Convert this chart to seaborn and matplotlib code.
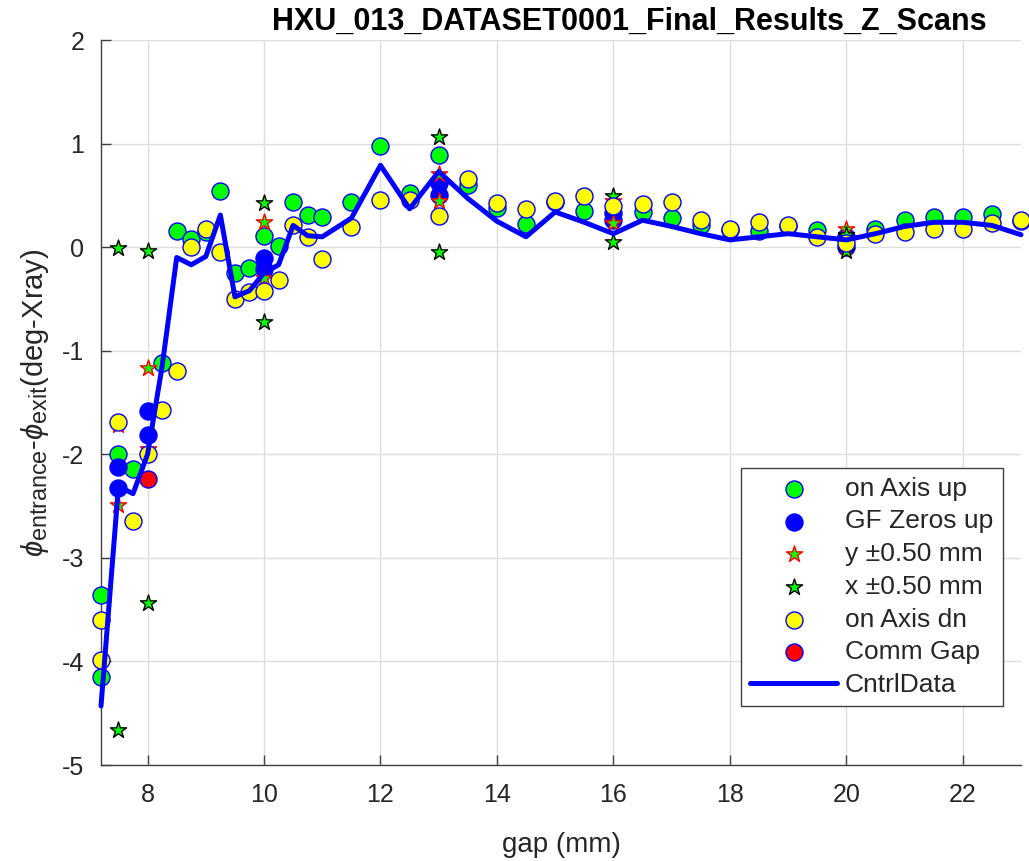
import numpy as np
import pandas as pd
import matplotlib
matplotlib.use("Agg")
import matplotlib.pyplot as plt
import matplotlib._mathtext as _mt
import seaborn as sns

# ---------------- data ----------------
up_x = [7.2, 7.2, 7.5, 7.75, 8.25, 8.5, 8.75, 9.0, 9.25, 9.5, 9.75, 10.0, 10.25, 10.5,
        10.75, 11.0, 11.5, 12.0, 12.5, 13.0, 13.5, 14.0, 14.5, 15.0, 15.5, 16.5, 17.0,
        17.5, 18.0, 18.5, 19.0, 19.5, 20.0, 20.5, 21.0, 21.5, 22.0, 22.5, 23.0]
up_y = [-3.36, -4.15, -2.0, -2.14, -1.12, 0.16, 0.08, 0.15, 0.54, -0.25, -0.2, 0.11, 0.01, 0.44,
        0.31, 0.29, 0.44, 0.98, 0.52, 0.89, 0.60, 0.38, 0.22, 0.44, 0.35, 0.34, 0.28,
        0.21, 0.17, 0.16, 0.20, 0.17, 0.10, 0.18, 0.26, 0.29, 0.29, 0.32, 0.25]

gf_x = [7.5, 7.5, 8.0, 8.0, 10.0, 10.0, 13.0, 13.0, 16.0, 16.0, 20.0, 20.0]
gf_y = [-2.12, -2.33, -1.58, -1.81, -0.10, -0.21, 0.62, 0.50, 0.33, 0.26, 0.10, 0.0]

ys_x = [7.5, 7.5, 8.0, 8.0, 10.0, 10.0, 13.0, 13.0, 16.0, 16.0, 20.0, 20.0]
ys_y = [-1.72, -2.49, -1.17, -1.95, 0.24, -0.30, 0.71, 0.45, 0.45, 0.23, 0.18, 0.0]

xs_x = [7.5, 7.5, 8.0, 8.0, 10.0, 10.0, 13.0, 13.0, 16.0, 16.0, 20.0, 20.0]
xs_y = [-0.01, -4.66, -0.04, -3.44, 0.43, -0.72, 1.06, -0.05, 0.49, 0.05, 0.12, -0.04]

dn_x = [7.2, 7.2, 7.5, 7.75, 8.0, 8.25, 8.5, 8.75, 9.0, 9.25, 9.5, 9.75, 10.0, 10.25, 10.5,
        10.75, 11.0, 11.5, 12.0, 12.5, 13.0, 13.5, 14.0, 14.5, 15.0, 15.5, 16.0, 16.5,
        17.0, 17.5, 18.0, 18.5, 19.0, 19.5, 20.0, 20.5, 21.0, 21.5, 22.0, 22.5, 23.0]
dn_y = [-3.6, -3.99, -1.69, -2.64, -2.0, -1.57, -1.2, 0.0, 0.18, -0.05, -0.5, -0.43, -0.42, -0.32, 0.21,
        0.10, -0.11, 0.19, 0.46, 0.46, 0.30, 0.66, 0.43, 0.37, 0.45, 0.49, 0.40, 0.42,
        0.44, 0.26, 0.18, 0.24, 0.21, 0.10, 0.04, 0.13, 0.15, 0.18, 0.18, 0.23, 0.26]

cg_x = [8.0]
cg_y = [-2.24]

ctrl_x = [7.2, 7.5, 7.75, 8.0, 8.25, 8.5, 8.75, 9.0, 9.25, 9.5, 9.75, 10.0, 10.25, 10.5, 10.75,
          11.0, 11.5, 12.0, 12.5, 13.0, 13.5, 14.0, 14.5, 15.0, 15.5, 16.0, 16.5, 17.0, 17.5,
          18.0, 18.5, 19.0, 19.5, 20.0, 20.5, 21.0, 21.5, 22.0, 22.5, 23.0]
ctrl_y = [-4.43, -2.31, -2.38, -2.0, -1.15, -0.10, -0.17, -0.09, 0.31, -0.48, -0.42, -0.25, -0.17, 0.21, 0.11,
          0.10, 0.28, 0.79, 0.37, 0.73, 0.47, 0.25, 0.10, 0.34, 0.24, 0.13, 0.26, 0.20, 0.13,
          0.07, 0.10, 0.13, 0.10, 0.07, 0.13, 0.20, 0.24, 0.24, 0.21, 0.12]

title = "HXU_013_DATASET0001_Final_Results_Z_Scans"

# ---------------- style ----------------
sns.set_theme(style="white")
plt.rcParams["font.family"] = ["Liberation Sans", "DejaVu Sans"]
plt.rcParams["mathtext.fontset"] = "custom"
plt.rcParams["mathtext.rm"] = "Liberation Sans"
plt.rcParams["mathtext.it"] = "Liberation Sans:italic"
plt.rcParams["axes.unicode_minus"] = False
_mt.SHRINK_FACTOR = 0.8  # MATLAB-like, larger subscripts

fig = plt.figure(figsize=(10.29, 8.61), dpi=100)
ax = fig.add_axes([101 / 1029, 1 - 765 / 861, 920 / 1029, 725 / 861])

S_CIRC = 150
S_STAR = 150
kw = dict(ax=ax, clip_on=False)
sns.scatterplot(x=up_x, y=up_y, marker="o", s=S_CIRC, color="#00ff00", edgecolor="#0000ff",
                linewidth=1.0, label="on Axis up", zorder=3, **kw)
sns.scatterplot(x=gf_x, y=gf_y, marker="o", s=S_CIRC, color="#0000ff", edgecolor="#0000ff",
                linewidth=1.0, label="GF Zeros up", zorder=4, **kw)
sns.scatterplot(x=ys_x, y=ys_y, marker="*", s=S_STAR, color="#00ff00", edgecolor="#ff0000",
                linewidth=1.0, label="y \u00b10.50 mm", zorder=5, **kw)
sns.scatterplot(x=xs_x, y=xs_y, marker="*", s=S_STAR, color="#00ff00", edgecolor="#000000",
                linewidth=1.0, label="x \u00b10.50 mm", zorder=6, **kw)
sns.scatterplot(x=dn_x, y=dn_y, marker="o", s=S_CIRC, color="#ffff00", edgecolor="#0000ff",
                linewidth=1.0, label="on Axis dn", zorder=7, **kw)
sns.scatterplot(x=cg_x, y=cg_y, marker="o", s=S_CIRC, color="#ff0000", edgecolor="#0000ff",
                linewidth=1.0, label="Comm Gap", zorder=8, **kw)
sns.lineplot(x=ctrl_x, y=ctrl_y, color="#0000ff", linewidth=3.6, label="CntrlData", ax=ax,
             zorder=10, clip_on=False)

ax.set_xlim(7.2, 23)
ax.set_ylim(-5, 2)
ax.set_xticks(list(range(8, 23, 2)))
ax.set_yticks(list(range(-5, 3)))
ax.grid(True, color="#dedede", linewidth=1.0)
ax.set_axisbelow(True)
for s in ["top", "right"]:
    ax.spines[s].set_visible(False)
for s in ["left", "bottom"]:
    ax.spines[s].set_color("#404040")
    ax.spines[s].set_linewidth(1.0)
ax.tick_params(axis="both", direction="in", length=7, width=1, color="#404040",
               labelsize=18, labelcolor="#262626", left=True, bottom=True)
ax.tick_params(axis="y", pad=12)
ax.tick_params(axis="x", pad=13)

ax.set_xlabel("gap (mm)", fontsize=20, color="#262626", labelpad=18)
ax.set_ylabel(r"$\phi_{\mathrm{entrance}}$-$\phi_{\mathrm{exit}}$(deg-Xray)", fontsize=21,
              color="#262626", labelpad=8)
ax.set_title(title, fontsize=22, fontweight="bold", color="#000000", x=0.574, pad=7)

leg = ax.legend(loc="lower right", bbox_to_anchor=(0.98, 0.081), borderaxespad=0,
                fontsize=19, frameon=True, fancybox=False, framealpha=1, edgecolor="#404040",
                handlelength=3.3, handletextpad=0.3, labelspacing=0.33, borderpad=0.35)
leg.get_frame().set_linewidth(1.0)

fig.savefig("out.png", dpi=100)
